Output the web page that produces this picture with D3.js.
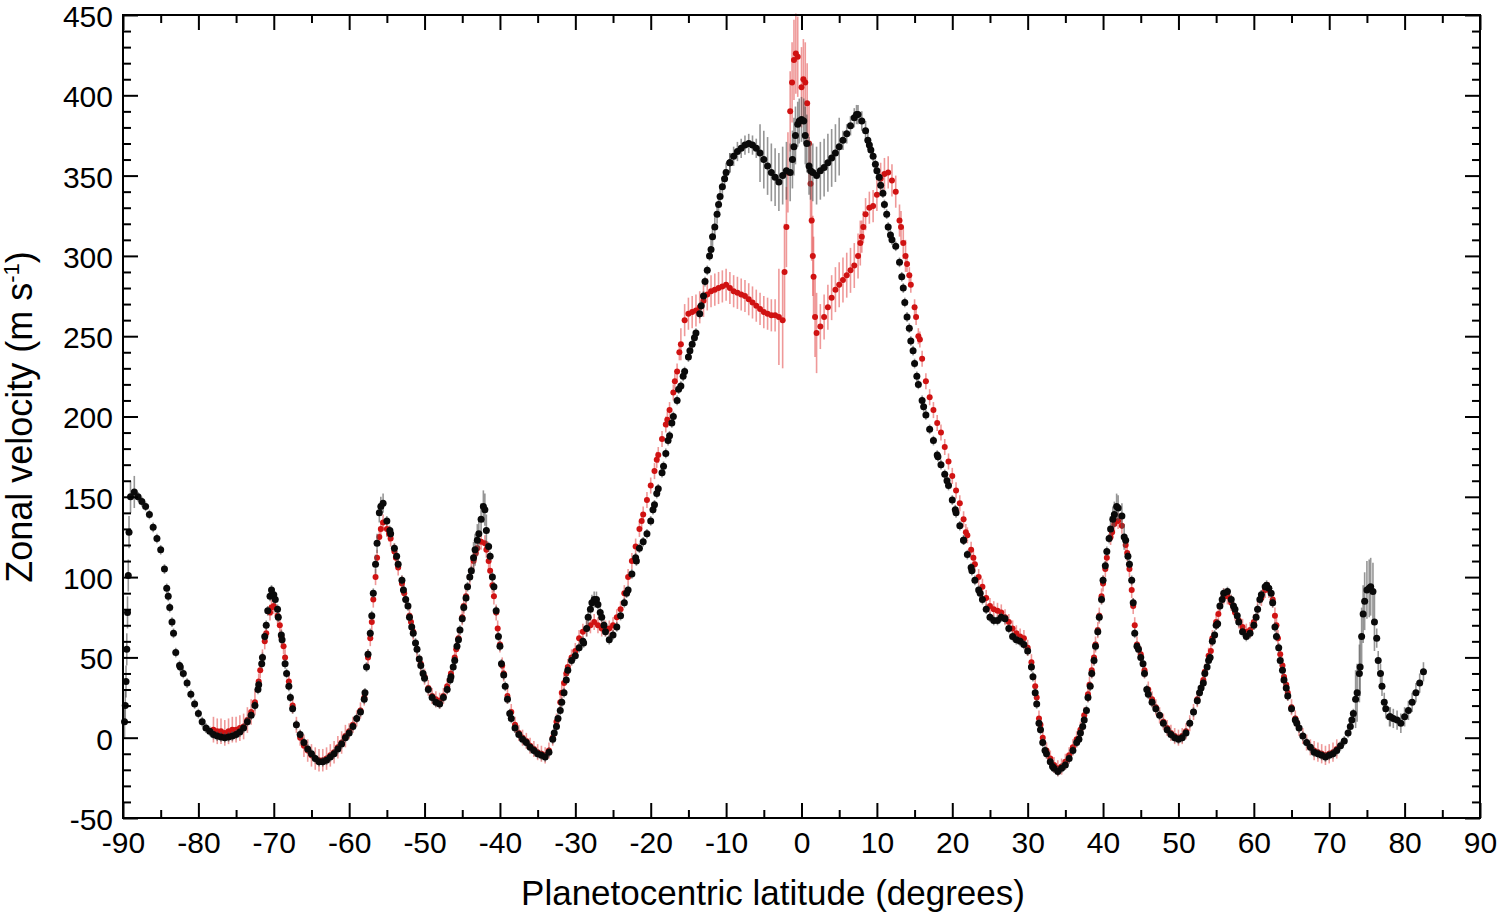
<!DOCTYPE html>
<html>
<head>
<meta charset="utf-8">
<script src="https://cdn.jsdelivr.net/npm/d3@7/dist/d3.min.js"></script>
<style>
  html, body { margin: 0; padding: 0; background: #fff; }
  svg { display: block; }
  text { font-family: "Liberation Sans", Arial, sans-serif; fill: #000; }
</style>
</head>
<body>
<svg id="chart" width="1497" height="914"></svg>
<script>
// ---------------- DATA ----------------
const xTicks = [-90,-80,-70,-60,-50,-40,-30,-20,-10,0,10,20,30,40,50,60,70,80,90];
const yTicks = [-50,0,50,100,150,200,250,300,350,400,450];

// Black series (grid from -89.0 step 0.5)
const blackStart = -89.0, blackStep = 0.5;
const blackVel = [
  150,153,150,147,144,139,131,124,117,105,88,72,53,45,40,34,27,21,            // -89.0 .. -80.5
  15,10,6,4,2,1,0.5,0,0.5,1,2,3.5,6,10,14,20,33,50,70,88,                    // -80 .. -70.5
  89,80,64,46,32,18,8,2,-3,-7,-10,-13,-15,-15,-14,-12,-10,-7,-4,0,           // -70 .. -60.5
  3,7,12,16,24,52,76,108,140,146,135,127,118,108,98,86,75,65,55,45,          // -60 .. -50.5
  37,30,25,22,21,25,30,38,48,61,74,87,100,112,123,136,142,119,100,79,        // -50 .. -40.5
  57,39,24,12,6,2,-1,-3,-6,-8,-10,-11,-12,-9,-1,7,17,28,42,48,               // -40 .. -30.5
  51,56,60,68,80,86,83,75,66,61,64,69,76,84,92,102,112,118,122,127,          // -30 .. -20.5
  135,145,155,165,177,188,200,210,219,228,237,245,252,264,275,291,304,318,332,343, // -20 .. -10.5
  352,358,362,365,367,369,370,369,367,364,360,356,352,349,346,350,353,352,368,382, // -10 .. -0.5
  385,375,356,352,350,353,355,358,361,364,368,372,376,381,386,388,384,378,369,362, // 0 .. 9.5
  353,344,332,318,310,306,296,280,262,247,233,220,210,201,192,185,176,170,164,157, // 10 .. 19.5
  148,140,132,123,114,106,98,92,86,80,75,73,73,75,74,68,63,61,60,58,          // 20 .. 29.5
  54,44,28,9,-3,-10,-15,-19,-21,-19,-17,-13,-8,-3,3,11,25,40,57,75,           // 30 .. 39.5
  98,116,130,139,143,138,123,108,84,57,50,40,27,22,18,14,9,5,2,0,             // 40 .. 49.5
  -1,0,3,9,16,23,31,40,48,60,70,82,90,91,86,80,72,66,63,65,                   // 50 .. 59.5
  70,80,89,94,93,84,63,48,36,26,18,11,6,1,-3,-6,-9,-10,-11,-12,               // 60 .. 69.5
  -11,-10,-8,-5,-2,3,11,24,40,77,92,94,72,48,32,18,13,12,11,9,                // 70 .. 79.5
  13,17,22,28,34,41                                                           // 80 .. 82.5
];
// Additional black points read between grid latitudes (edge and steep flanks)
const blackExtraLat = [-89.8,-89.7,-89.6,-89.5,-89.4,-89.3,-89.2,
  -84.2,-83.8,-83.3,-82.4,-72.1,-71.6,-71.2,-70.8,-70.3,-69.8,-69.4,-68.9,-68.3,-67.8,
  -57.9,-57.7,-57.2,-56.8,-56.3,-55.8,-54.6,-53.7,-52.8,-52.2,-51.7,-51.2,-50.7,-50.2,
  -46.6,-46.2,-45.7,-45.3,-44.8,-44.3,-43.8,-43.3,-42.8,-42.2,-41.8,-41.3,-40.8,-40.2,-39.8,-39.3,-38.7,
  -32.8,-32.3,-31.8,-31.2,-28.9,-28.3,-27.8,-27.2,-26.7,-26.2,-23.2,-21.9,-19.7,-19.2,-18.3,-17.7,-17.2,
  -16.3,-15.7,-14.8,-14.2,-13.3,-12.8,-12.2,-11.8,-11.2,-10.8,-10.2,-9.5,
  -1.2,-0.8,-0.3,0.3,0.7,1.2,7.3,8.8,9.2,9.8,10.3,10.8,11.3,11.8,13.3,13.7,14.3,14.8,15.3,16.2,
  18.1,19.3,20.4,21.5,22.6,23.7,30.7,31.2,31.7,32.3,33.3,36.8,37.3,37.8,38.3,38.8,39.3,39.8,
  40.3,40.8,41.3,41.8,42.8,43.3,43.8,44.2,44.7,45.3,45.8,52.8,53.3,53.8,54.2,54.8,55.2,55.8,
  57.3,57.8,60.3,60.8,61.7,62.3,62.8,63.3,63.8,64.3,65.7,
  72.8,73.2,73.7,74.1,74.3,74.7,75.3,75.8,76.3,76.8,77.3,78.1];
const blackExtraVel = [10,20,35,55,78,101,128,
  93,81,65,44,30,46,63,79,92,86,75,61,40,25,
  28,44,65,90,121,144,129,113,92,82,69,59,49,40,
  36,44,57,67,81,94,104,117,127,144,129,113,94,63,46,32,15,
  3,12,22,36,59,75,84,86,78,70,90,110,142,152,169,185,196,
  217,225,241,249,269,284,300,312,326,337,348,358,
  360,375,384,384,370,353,388,372,366,357,349,339,326,313,287,271,255,241,225,206,
  175,160,142,123,104,90,38,21,5,-8,-18,-1,7,17,32,48,66,86,
  107,124,136,144,125,113,98,65,55,46,30,28,34,44,50,64,71,86,
  82,76,75,86,95,90,69,56,42,31,9,
  7,15,28,44,63,85,93,91,62,40,22,13];

// Red series (grid from -78.0 step 0.5)
const redStart = -78.0, redStep = 0.5;
const redVel = [
  5,4,4,3,4,5,5,6,7,11,16,22,35,50,65,78,                                     // -78 .. -70.5
  82,76,63,50,35,20,8,0,-5,-8,-11,-13,-14,-14,-13,-11,-9,-6,-3,1,             // -70 .. -60.5
  4,8,12,17,25,50,72,100,125,134,130,124,116,106,96,86,76,66,55,46,           // -60 .. -50.5
  38,31,26,24,23,26,32,40,50,62,75,88,100,110,118,122,121,110,95,78,          // -50 .. -40.5
  58,40,26,16,8,3,0,-2,-5,-7,-9,-10,-11,-8,0,10,22,34,44,50,                  // -40 .. -30.5
  54,62,66,68,70,72,70,68,68,68,70,75,80,90,100,110,119,130,139,148,          // -30 .. -20.5
  157,166,176,186,195,204,215,228,245,260,264,265,266,268,272,276,278,279,280,281, // -20 .. -10.5
  282,280,278,277,276,275,273,271,269,267,265,264,263,263,262,260,318,390,422,424, // -10 .. -0.5
  405,408,370,300,252,256,262,268,274,279,282,285,288,291,294,300,312,326,330,331, // 0 .. 9.5
  338,348,351,352,347,340,322,308,295,282,268,250,236,222,212,204,196,190,181,172, // 10 .. 19.5
  163,154,146,136,126,117,108,100,94,87,82,80,79,78,75,72,68,65,63,62,        // 20 .. 29.5
  56,47,32,12,0,-8,-13,-17,-19,-18,-15,-11,-6,-1,5,14,27,42,58,76,            // 30 .. 39.5
  96,112,125,133,135,132,120,105,82,58,52,42,30,24,19,14,10,6,3,1,            // 40 .. 49.5
  0,1,4,9,16,24,31,41,51,62,72,82,88,88,84,78,73,69,66,67,                    // 50 .. 59.5
  72,80,87,92,92,86,70,52,38,28,19,12,6,1,-3,-6,-8,-9,-10,-11,                // 60 .. 69.5
  -10,-9,-7                                                                   // 70 .. 71
];
// Additional red points read between grid latitudes (equatorial spike and steep flanks)
const redExtraLat = [-2.25,-1.8,-1.25,-0.75,0.25,0.75,1.2,1.35,1.6,1.8,
  -71.8,-71.2,-70.3,-69.2,-68.7,-57.2,-56.8,-56.3,-55.8,-54.7,-53.8,-52.7,-51.8,
  -45.8,-44.8,-43.8,-43.2,-41.8,-41.3,-40.8,-40.3,-39.7,-31.8,-31.2,
  -21.2,-19.2,-17.8,-16.8,-16.2,7.8,8.2,13.2,13.8,14.3,15.2,15.7,21.8,22.8,
  31.2,31.7,38.2,38.8,39.3,39.8,40.3,41.2,43.2,43.8,44.2,53.3,54.3,55.3,62.8,63.2,63.8,64.3];
const redExtraVel = [290,352,408,426,410,395,345,322,287,262,
  42,60,81,70,57,62,86,112,130,127,112,90,72,
  55,82,104,115,117,104,88,68,45,28,40,
  135,173,198,222,240,308,318,318,300,288,262,248,128,112,
  25,8,33,50,67,88,105,128,115,92,70,36,54,77,76,62,45,33];

// Error-bar half-widths (m/s) by latitude band
const blackErrDefault = 3;
const blackErrBands = [[-90,-88,10],[-56.5,-55,6],[-43.5,-41.5,10],[-28.5,-27,5],[-12,-5.5,6],
  [-5.5,-0.5,18],[-0.5,0.5,14],[0.5,5.5,18],[5.5,9,6],[41,43,8],[73.5,76.2,18],[76.2,83,6]];
const redErrDefault = 5;
const redErrBands = [[-78,-72,8],[-66,-60,7],[-16,-3,10],[-3,-2.1,30],[-2.1,2.1,25],
  [2.1,8,14],[8,14,10],[68,71.5,6]];

// ---------------- BUILD ----------------
function errFor(lat, bands, def) {
  for (const b of bands) if (lat >= b[0] && lat < b[1]) return b[2];
  return def;
}
const black = blackVel.map((v,i) => ({lat: blackStart + i*blackStep, v}))
  .concat(blackExtraLat.map((l,i) => ({lat: l, v: blackExtraVel[i]})));
black.forEach(d => d.e = errFor(d.lat, blackErrBands, blackErrDefault));
const red = redVel.map((v,i) => ({lat: redStart + i*redStep, v}))
  .concat(redExtraLat.map((l,i) => ({lat: l, v: redExtraVel[i]})));
red.forEach(d => d.e = errFor(d.lat, redErrBands, redErrDefault));

const L = 123, R = 1480, T = 15, B = 818;
const svg = d3.select("#chart");
const x = d3.scaleLinear().domain([-90, 90]).range([L, R]);
const y = d3.scaleLinear().domain([-50, 450]).range([B, T]);

const plot = svg.append("g");
function drawSeries(data, barColor, dotColor, r) {
  plot.append("g").selectAll("line").data(data).join("line")
    .attr("x1", d => x(d.lat)).attr("x2", d => x(d.lat))
    .attr("y1", d => y(d.v - d.e)).attr("y2", d => y(d.v + d.e))
    .attr("stroke", barColor).attr("stroke-width", 1.6);
  plot.append("g").selectAll("circle").data(data).join("circle")
    .attr("cx", d => x(d.lat)).attr("cy", d => y(d.v)).attr("r", r)
    .attr("fill", dotColor);
}
drawSeries(red, "rgba(225,70,70,0.55)", "#d01212", 3.0);
drawSeries(black, "rgba(80,80,80,0.6)", "#0a0a0a", 3.5);

// ---------------- AXES ----------------
const minorX = d3.range(-85, 90, 10);
const minorY = d3.range(-40, 450, 10).filter(v => v % 50 !== 0);
const fmt = d => String(d);

function styleAxis(g) {
  g.select(".domain").remove();
  g.selectAll(".tick line").attr("stroke", "#000").attr("stroke-width", 2);
  g.selectAll(".tick text").attr("font-size", 30).attr("font-family", '"Liberation Sans", Arial, sans-serif');
}
// bottom
svg.append("g").attr("transform", `translate(0,${B})`)
  .call(d3.axisBottom(x).tickValues(xTicks).tickSize(-15).tickPadding(14).tickFormat(fmt))
  .call(styleAxis);
svg.append("g").attr("transform", `translate(0,${B})`)
  .call(d3.axisBottom(x).tickValues(minorX).tickSize(-8).tickFormat(""))
  .call(styleAxis);
// top
svg.append("g").attr("transform", `translate(0,${T})`)
  .call(d3.axisTop(x).tickValues(xTicks).tickSize(-15).tickFormat(""))
  .call(styleAxis);
svg.append("g").attr("transform", `translate(0,${T})`)
  .call(d3.axisTop(x).tickValues(minorX).tickSize(-8).tickFormat(""))
  .call(styleAxis);
// left
svg.append("g").attr("transform", `translate(${L},0)`)
  .call(d3.axisLeft(y).tickValues(yTicks).tickSize(-15).tickPadding(10).tickFormat(fmt))
  .call(styleAxis)
  .call(g => g.selectAll(".tick text").attr("dy", "0.38em"));
svg.append("g").attr("transform", `translate(${L},0)`)
  .call(d3.axisLeft(y).tickValues(minorY).tickSize(-8).tickFormat(""))
  .call(styleAxis);
// right
svg.append("g").attr("transform", `translate(${R},0)`)
  .call(d3.axisRight(y).tickValues(yTicks).tickSize(-15).tickFormat(""))
  .call(styleAxis);
svg.append("g").attr("transform", `translate(${R},0)`)
  .call(d3.axisRight(y).tickValues(minorY).tickSize(-8).tickFormat(""))
  .call(styleAxis);

// frame
svg.append("rect").attr("x", L).attr("y", T).attr("width", R - L).attr("height", B - T)
  .attr("fill", "none").attr("stroke", "#000").attr("stroke-width", 2);

// titles
svg.append("text").attr("x", 773).attr("y", 905).attr("text-anchor", "middle")
  .attr("font-size", 35).text("Planetocentric latitude (degrees)");

const yt = svg.append("text").attr("transform", "translate(32,417) rotate(-90)")
  .attr("text-anchor", "middle").attr("font-size", 36);
yt.append("tspan").text("Zonal velocity (m s");
yt.append("tspan").attr("font-size", 22).attr("dy", -13).text("-1");
yt.append("tspan").attr("dy", 13).text(")");
</script>
</body>
</html>
